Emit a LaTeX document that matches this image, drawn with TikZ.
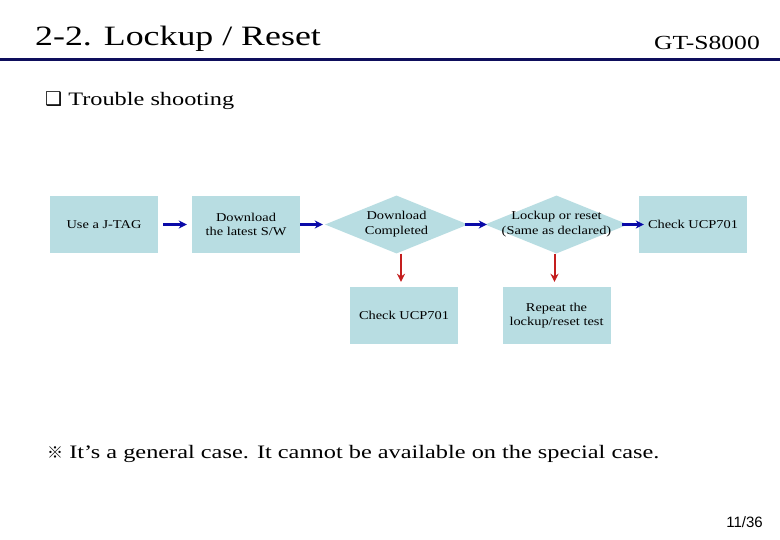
\documentclass[tikz,border=0pt]{standalone}
\usepackage{fontspec}
\setmainfont[FakeStretch=1.28]{Liberation Serif}
\newfontfamily\boxfont[FakeStretch=1.2]{Liberation Serif}
\newfontfamily\symfont{DejaVu Sans}
\newfontfamily\cjk{Noto Sans CJK KR}
\newfontfamily\pgfont{Liberation Sans}
\usetikzlibrary{shapes.geometric,arrows.meta}
\definecolor{boxfill}{HTML}{B8DDE2}
\definecolor{arrblue}{HTML}{0A0AA8}
\definecolor{arrred}{HTML}{C41E1E}
\definecolor{navy}{HTML}{0E0E5C}
\tikzset{
  stepbox/.style={rectangle, fill=boxfill, minimum width=108pt, minimum height=57pt, inner sep=0pt, align=center, font=\boxfont\fontsize{12}{14}\selectfont},
  dia/.style={diamond, fill=boxfill, minimum width=143pt, minimum height=58pt, inner sep=0pt},
  diatext/.style={align=center, font=\boxfont\fontsize{12}{15}\selectfont, inner sep=0pt},
  barr/.style={draw=arrblue, line width=2.3pt, -{Stealth[length=8pt,width=8pt]}},
  rarr/.style={draw=arrred, line width=2pt, -{Stealth[length=8pt,width=8pt]}}
}
\begin{document}
\begin{tikzpicture}[x=1pt,y=-1pt]
\useasboundingbox (0,0) rectangle (780,540);
\fill[white] (0,0) rectangle (780,540);
% header
\node[anchor=base west, inner sep=0pt, font=\fontsize{28}{30}\selectfont] (title) at (35,46) {2-2. Lockup / Reset};
\node[anchor=base east, inner sep=0pt, font=\fontsize{20}{22}\selectfont] (model) at (760,50) {GT-S8000};
\coordinate (ll) at (0,60);
\coordinate (lr) at (780,60);
\draw[navy, line width=3pt] (ll) -- (lr);
\node[anchor=base west, inner sep=0pt, font=\fontsize{19}{21}\selectfont] (ts) at (45,106) {{\symfont\fontsize{19}{21}\selectfont ❑} Trouble shooting};
% flow
\node[stepbox] (b1) at (104,224.5) {Use a J-TAG};
\node[stepbox] (b2) at (246,224.5) {Download\\the latest S/W};
\node[dia] (d1) at (396.5,224.5) {};
\node[diatext] (t1) at (d1) {Download\\Completed};
\node[dia] (d2) at (556.5,224.5) {};
\node[diatext] (t2) at (d2) {Lockup or reset\\(Same as declared)};
\node[stepbox] (b3) at (693,224.5) {Check UCP701};
\node[stepbox] (b4) at (404,315.5) {Check UCP701};
\node[stepbox] (b5) at (556.5,315.5) {Repeat the\\lockup/reset test};
\draw[barr, shorten <=5pt, shorten >=5pt] (b1) -- (b2);
\draw[barr, shorten >=2pt] (b2) -- (d1);
\draw[barr, shorten <=-3pt, shorten >=-2pt] (d1) -- (d2);
\draw[barr, shorten <=-6pt, shorten >=-5pt] (d2) -- (b3);
\draw[rarr, shorten >=5pt] ([xshift=-3pt]d1.south -| b4.north) -- ([xshift=-3pt]b4.north);
\draw[rarr, shorten >=5pt] ([xshift=-2pt]d2.south) -- ([xshift=-2pt]b5.north);
% note
\node[anchor=base west, inner sep=0pt, font=\fontsize{19}{21}\selectfont] (note) at (47,458) {{\cjk\fontsize{16}{18}\selectfont ※} It's a general case. It cannot be available on the special case.};
\node[anchor=base east, inner sep=0pt, font=\pgfont\fontsize{15}{17}\selectfont] (pg) at (763,527) {11/36};
\end{tikzpicture}
\end{document}
